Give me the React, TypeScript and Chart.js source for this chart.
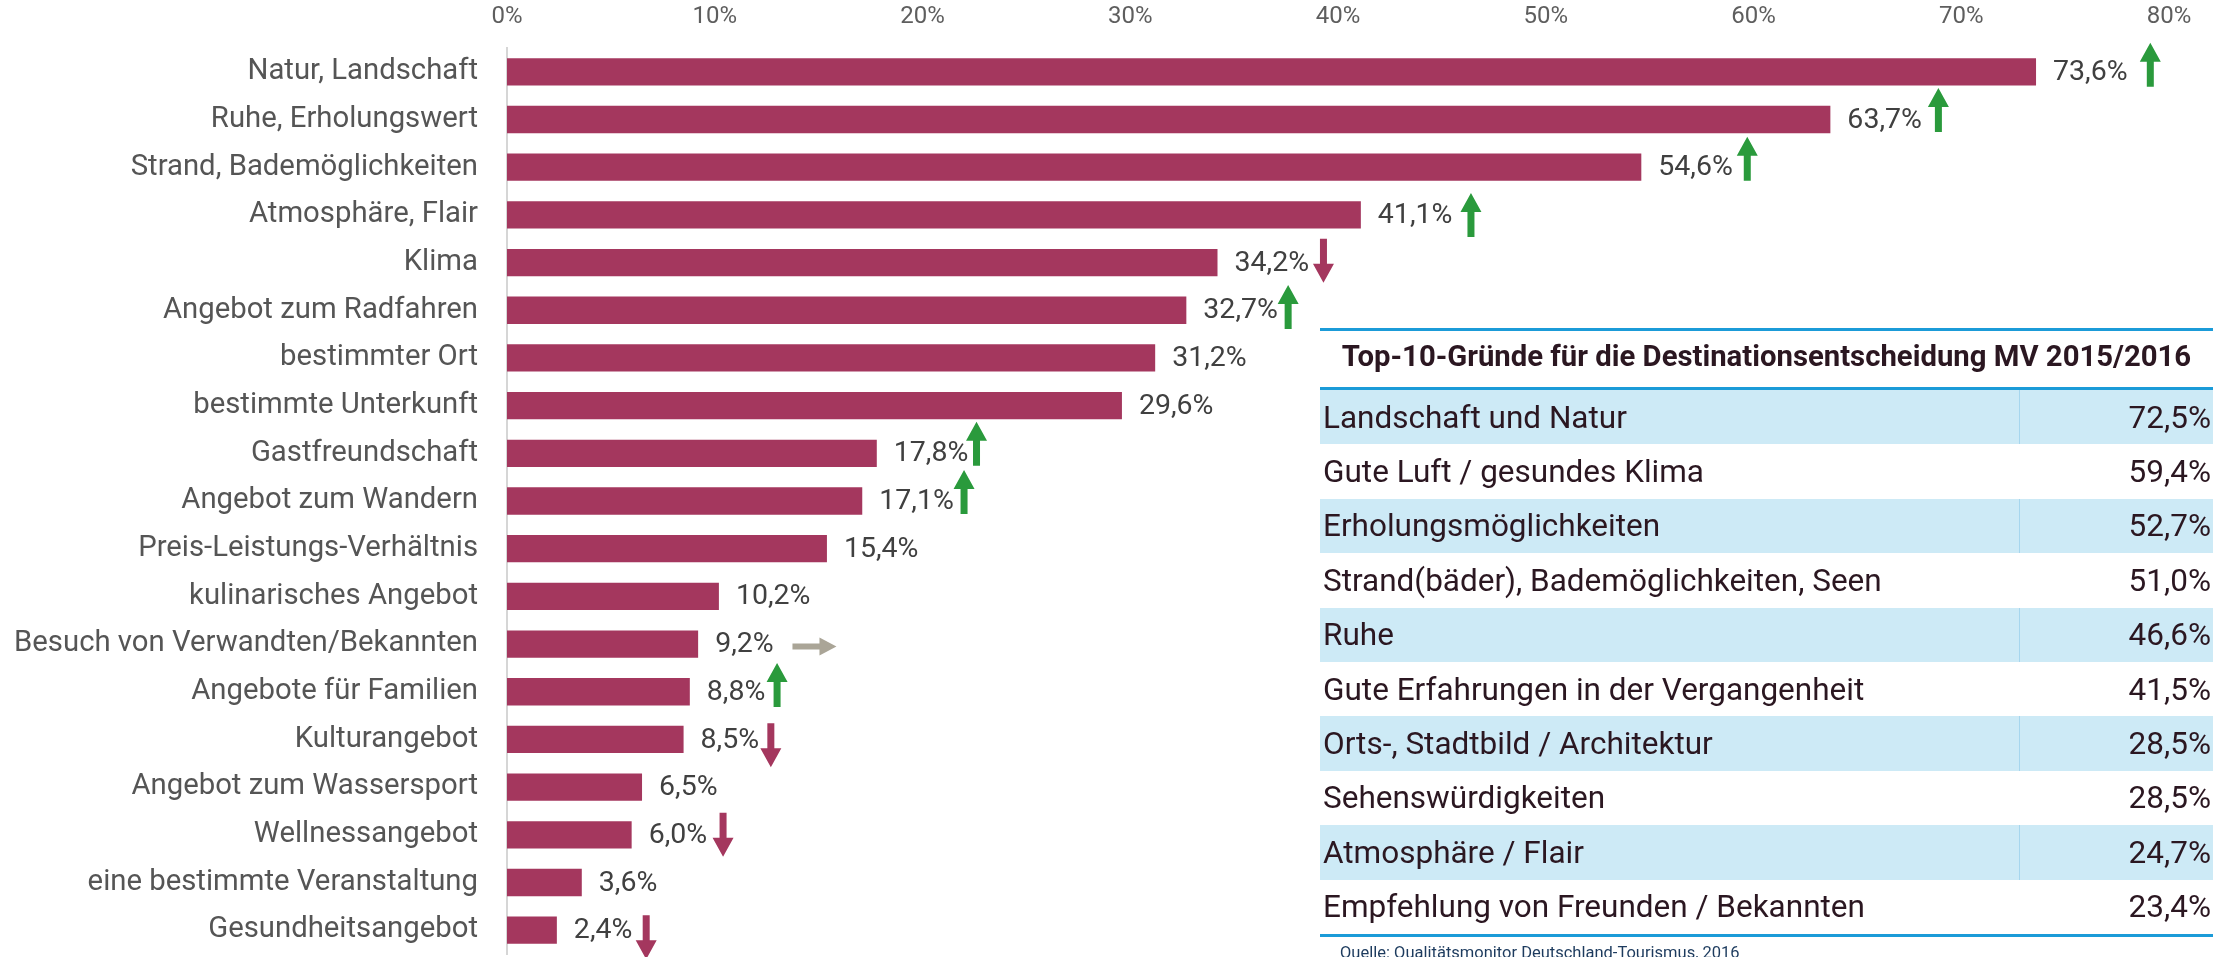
import React, { useEffect, useRef } from 'react';
import { Chart, registerables } from 'chart.js';

Chart.register(...registerables);

// ---------- data ----------
const categories = [
  'Natur, Landschaft',
  'Ruhe, Erholungswert',
  'Strand, Bademöglichkeiten',
  'Atmosphäre, Flair',
  'Klima',
  'Angebot zum Radfahren',
  'bestimmter Ort',
  'bestimmte Unterkunft',
  'Gastfreundschaft',
  'Angebot zum Wandern',
  'Preis-Leistungs-Verhältnis',
  'kulinarisches Angebot',
  'Besuch von Verwandten/Bekannten',
  'Angebote für Familien',
  'Kulturangebot',
  'Angebot zum Wassersport',
  'Wellnessangebot',
  'eine bestimmte Veranstaltung',
  'Gesundheitsangebot',
];
const shares = [73.6, 63.7, 54.6, 41.1, 34.2, 32.7, 31.2, 29.6, 17.8, 17.1, 15.4, 10.2, 9.2, 8.8, 8.5, 6.5, 6.0, 3.6, 2.4];
const xTickValues = [0, 10, 20, 30, 40, 50, 60, 70, 80];

// trend arrows (category index, direction, x position in %, vertical shift in category units)
const trendCategory = [0, 1, 2, 3, 4, 5, 8, 9, 12, 13, 14, 16, 18];
const trendDirection = ['up', 'up', 'up', 'up', 'down', 'up', 'up', 'up', 'same', 'up', 'down', 'down', 'down'];
const trendX = [79.1, 68.9, 59.7, 46.4, 39.3, 37.6, 22.6, 22.0, 14.8, 13.0, 12.7, 10.4, 6.7];
const trendShift = [-0.15, -0.2, -0.18, 0, -0.04, -0.07, -0.2, -0.19, 0.05, -0.14, 0.12, 0, 0.15];

// side table
const tableTitle = 'Top-10-Gründe für die Destinationsentscheidung MV 2015/2016';
const tableReasons = [
  'Landschaft und Natur',
  'Gute Luft / gesundes Klima',
  'Erholungsmöglichkeiten',
  'Strand(bäder), Bademöglichkeiten, Seen',
  'Ruhe',
  'Gute Erfahrungen in der Vergangenheit',
  'Orts-, Stadtbild / Architektur',
  'Sehenswürdigkeiten',
  'Atmosphäre / Flair',
  'Empfehlung von Freunden / Bekannten',
];
const tableShares = [72.5, 59.4, 52.7, 51.0, 46.6, 41.5, 28.5, 28.5, 24.7, 23.4];
const sourceNote = 'Quelle: Qualitätsmonitor Deutschland-Tourismus, 2016';

// ---------- styles ----------
const BAR_COLOR = '#a4375e';
const UP_COLOR = '#2a9a3c';
const DOWN_COLOR = '#a4375e';
const SAME_COLOR = '#aaa597';
const FONT = 'Roboto';

const fmt = (v: number) => v.toFixed(1).replace('.', ',') + '%';

// arrow pointing "up" in local coords, centred on (0,0)
function drawArrowShape(ctx: CanvasRenderingContext2D, len: number, headW: number, headL: number, shaftW: number) {
  const top = -len / 2;
  const bottom = len / 2;
  ctx.beginPath();
  ctx.moveTo(0, top);
  ctx.lineTo(headW / 2, top + headL);
  ctx.lineTo(shaftW / 2, top + headL);
  ctx.lineTo(shaftW / 2, bottom);
  ctx.lineTo(-shaftW / 2, bottom);
  ctx.lineTo(-shaftW / 2, top + headL);
  ctx.lineTo(-headW / 2, top + headL);
  ctx.closePath();
  ctx.fill();
}

const valueLabels = {
  id: 'valueLabels',
  afterDatasetsDraw(chart: any) {
    const meta = chart.getDatasetMeta(0);
    const ctx = chart.ctx;
    ctx.save();
    ctx.font = `28.5px ${FONT}`;
    ctx.fillStyle = '#404040';
    ctx.textBaseline = 'middle';
    ctx.textAlign = 'left';
    meta.data.forEach((bar: any, i: number) => {
      ctx.fillText(fmt(shares[i]), bar.x + 17, bar.y + 1);
    });
    ctx.restore();
  },
};

const trendArrows = {
  id: 'trendArrows',
  afterDraw(chart: any) {
    const ctx = chart.ctx;
    const xs = chart.scales.x;
    const ys = chart.scales.y;
    ctx.save();
    trendCategory.forEach((c, i) => {
      const px = xs.getPixelForValue(trendX[i]);
      const py = ys.getPixelForValue(c + trendShift[i]);
      const dir = trendDirection[i];
      ctx.save();
      ctx.translate(px, py);
      if (dir === 'up') {
        ctx.fillStyle = UP_COLOR;
        drawArrowShape(ctx, 44, 21, 19, 7);
      } else if (dir === 'down') {
        ctx.rotate(Math.PI);
        ctx.fillStyle = DOWN_COLOR;
        drawArrowShape(ctx, 44, 21, 19, 7);
      } else {
        ctx.rotate(Math.PI / 2);
        ctx.fillStyle = SAME_COLOR;
        drawArrowShape(ctx, 44, 18, 17, 6);
      }
      ctx.restore();
    });
    ctx.restore();
  },
};

function BarChart() {
  const ref = useRef<HTMLCanvasElement | null>(null);
  useEffect(() => {
    if (!ref.current) return;
    const chart = new Chart(ref.current, {
      type: 'bar',
      data: {
        labels: categories,
        datasets: [
          {
            data: shares,
            backgroundColor: BAR_COLOR,
            borderWidth: 0,
            barPercentage: 0.573,
            categoryPercentage: 1,
          },
        ],
      },
      options: {
        indexAxis: 'y',
        responsive: false,
        animation: false,
        events: [],
        layout: { padding: { top: 0, left: 0, right: 57, bottom: 3 } },
        plugins: { legend: { display: false }, tooltip: { enabled: false } },
        scales: {
          x: {
            type: 'linear',
            position: 'top',
            min: 0,
            max: 80,
            afterBuildTicks: (s: any) => {
              s.ticks = xTickValues.map((v) => ({ value: v }));
            },
            ticks: {
              padding: 16.6,
              color: '#5e5e5e',
              font: { family: FONT, size: 24 },
              callback: (v: any) => v + '%',
            },
            grid: { display: false, drawTicks: false },
            border: { display: false },
            afterFit: (s: any) => {
              s.height = 48;
              s.paddingLeft = 0;
              s.paddingRight = 0;
            },
          },
          y: {
            type: 'category',
            offset: true,
            ticks: {
              padding: 29,
              color: '#555555',
              font: { family: FONT, size: 29.3 },
              autoSkip: false,
            },
            grid: { display: false, drawTicks: false },
            border: { display: true, color: '#d6d6d6', width: 2 },
            afterFit: (s: any) => {
              s.width = 507;
              s.paddingTop = 0;
              s.paddingBottom = 0;
            },
          },
        },
      } as any,
      plugins: [valueLabels, trendArrows],
    });
    return () => chart.destroy();
  }, []);
  return <canvas ref={ref} width={2226} height={957} style={{ position: 'absolute', left: 0, top: 0, width: 2226, height: 957 }} />;
}

function SideTable() {
  const lineColor = '#1b9bd8';
  const shade = '#cdeaf6';
  return (
    <div style={{ position: 'absolute', left: 1320, top: 328, width: 893, fontFamily: FONT, color: '#2b1721' }}>
      <div style={{ height: 3, background: lineColor }} />
      <div
        style={{
          height: 56,
          boxSizing: 'border-box',
          paddingBottom: 6,
          display: 'flex',
          alignItems: 'center',
          justifyContent: 'center',
          fontWeight: 700,
          fontSize: 29.3,
          whiteSpace: 'nowrap',
        }}
      >
        {tableTitle}
      </div>
      <div style={{ height: 3, background: lineColor }} />
      {tableReasons.map((r, i) => (
        <div key={i} style={{ height: 54.4, display: 'flex', background: i % 2 === 0 ? shade : '#ffffff', fontSize: 31.5 }}>
          <div style={{ flex: '0 0 696px', display: 'flex', alignItems: 'center', paddingLeft: 3, whiteSpace: 'nowrap' }}>{r}</div>
          <div
            style={{
              flex: 1,
              display: 'flex',
              alignItems: 'center',
              justifyContent: 'flex-end',
              paddingRight: 2,
              borderLeft: `1px solid ${i % 2 === 0 ? '#a6d6ee' : '#ffffff'}`,
            }}
          >
            {fmt(tableShares[i])}
          </div>
        </div>
      ))}
      <div style={{ height: 3, background: lineColor }} />
    </div>
  );
}

export default function App() {
  useEffect(() => {
    document.body.style.margin = '0';
    document.body.style.overflow = 'hidden';
  }, []);
  return (
    <div style={{ position: 'absolute', left: 0, top: 0, width: 2226, height: 957, overflow: 'hidden', background: '#ffffff' }}>
      <BarChart />
      <SideTable />
      <div
        style={{
          position: 'absolute',
          left: 1340,
          top: 945,
          fontFamily: FONT,
          fontSize: 16.5,
          lineHeight: '16px',
          color: '#1d3b5e',
          whiteSpace: 'nowrap',
        }}
      >
        {sourceNote}
      </div>
    </div>
  );
}
